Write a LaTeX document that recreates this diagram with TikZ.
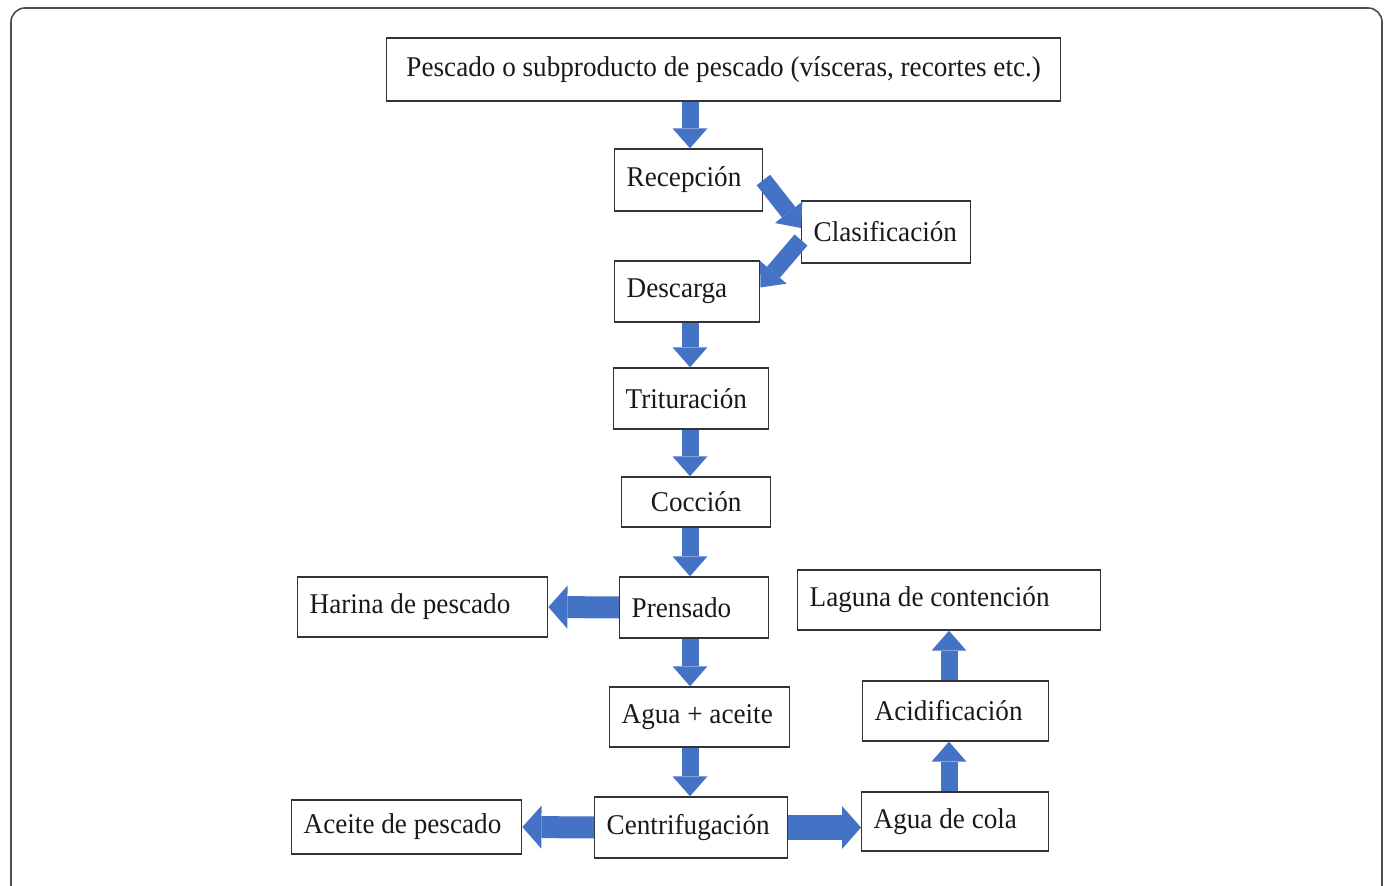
\documentclass[tikz,border=0pt]{standalone}
\usepackage{fontspec}
\setmainfont[FakeStretch=0.95]{Liberation Serif}
\usetikzlibrary{arrows.meta}
\definecolor{flowblue}{HTML}{4472C4}
\definecolor{framegray}{HTML}{4D4D4D}
\newcommand{\stagefont}{\fontsize{14.3pt}{17pt}\selectfont}

\begin{document}
\begin{tikzpicture}[x=0.5pt,y=-0.5pt,
		stage/.style={draw=black!80,line width=0.7pt,anchor=west,inner xsep=6pt,inner ysep=0pt,align=flush left,font=\stagefont,text=black!90},
		flow/.style={color=flowblue,line width=8.5pt,-{Triangle[width=17.5pt,length=10pt,line width=0pt]}},
		wide/.style={line width=11pt,-{Triangle[width=21.5pt,length=9.5pt,line width=0pt]}}]
	\useasboundingbox (0,0) rectangle (1389,886);
	\clip (0,0) rectangle (1389,886);
	\draw[framegray,line width=0.8pt,rounded corners=7pt] (11,8) rectangle (1382,900);
	% main line
	\node[stage,text width=325pt,minimum height=31.5pt,align=flush center] (pescado) at (386,69.5) {Pescado o subproducto de pescado (vísceras, recortes etc.)};
	\node[stage,text width=62pt,minimum height=31pt] (recep) at (614,180) {Recepción};
	\node[stage,text width=72.5pt,minimum height=31pt] (clasif) at (801,232) {Clasificación};
	\node[stage,text width=60.5pt,minimum height=30.5pt] (descarga) at (614,291.5) {Descarga};
	\node[stage,text width=65.5pt,minimum height=30.5pt] (tritur) at (613,398.5) {Trituración};
	\node[stage,text width=62.5pt,minimum height=25pt,align=flush center] (coccion) at (621,502) {Cocción};
	\node[stage,text width=62.5pt,minimum height=30.5pt] (prensado) at (619,607.5) {Prensado};
	\node[stage,text width=113pt,minimum height=30pt] (harina) at (297,607) {Harina de pescado};
	\node[stage,text width=78pt,minimum height=30pt] (agua) at (609,717) {Agua + aceite};
	\node[stage,text width=84.5pt,minimum height=30.5pt] (centrif) at (594,827.5) {Centrifugación};
	\node[stage,text width=103pt,minimum height=27pt] (aceite) at (291,827) {Aceite de pescado};
	% side branch
	\node[stage,text width=81.5pt,minimum height=29.5pt] (cola) at (861,821.5) {Agua de cola};
	\node[stage,text width=81pt,minimum height=30pt] (acidif) at (862,711) {Acidificación};
	\node[stage,text width=139.5pt,minimum height=30pt] (laguna) at (797,600) {Laguna de contención};
	\coordinate (axis) at (690,0);
	\coordinate (axisr) at (949,0);
	\path[flow]
	(pescado.south -| axis) edge (recep.north -| axis)
	(recep.east) edge ([yshift=2pt]clasif.west)
	([yshift=-4pt]clasif.west) edge ([yshift=2pt]descarga.east)
	(descarga.south -| axis) edge (tritur.north -| axis)
	(tritur.south -| axis) edge (coccion.north -| axis)
	(coccion.south -| axis) edge (prensado.north -| axis)
	(prensado.west) edge [wide] (harina.east)
	(prensado.south -| axis) edge (agua.north -| axis)
	(agua.south -| axis) edge (centrif.north -| axis)
	(centrif.west) edge [wide] (aceite.east)
	(centrif.east) edge [wide,line width=12.5pt] (centrif.east -| cola.west)
	(cola.north -| axisr) edge (acidif.south -| axisr)
	(acidif.north -| axisr) edge (laguna.south -| axisr);
\end{tikzpicture}
\end{document}
